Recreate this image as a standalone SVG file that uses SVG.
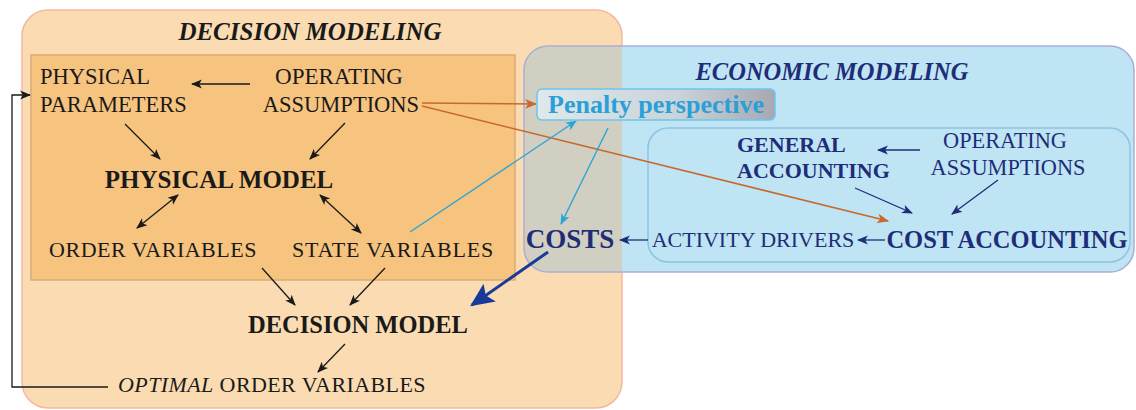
<svg xmlns="http://www.w3.org/2000/svg" width="1136" height="410" viewBox="0 0 1136 410">
<defs>
<style>
.t{font-family:"Liberation Serif","Times New Roman",serif;fill:#1a1a1a}
.b{font-weight:bold}
.i{font-style:italic}
.n{fill:#1e2d78}
.k{stroke:#1a1a1a;stroke-width:1.3;fill:none}
.nv{stroke:#1e2d78;stroke-width:1.3;fill:none}
.or{stroke:#c8692c;stroke-width:1.6;fill:none}
.cy{stroke:#2aa4d6;stroke-width:1.4;fill:none}
</style>
<marker id="ak" viewBox="0 0 10 10" refX="9" refY="5" markerWidth="11" markerHeight="11" markerUnits="userSpaceOnUse" orient="auto-start-reverse"><path d="M0,1 L10,5 L0,9 L2.5,5 z" fill="#1a1a1a"/></marker>
<marker id="an" viewBox="0 0 10 10" refX="9" refY="5" markerWidth="11" markerHeight="11" markerUnits="userSpaceOnUse" orient="auto"><path d="M0,1 L10,5 L0,9 L2.5,5 z" fill="#1e2d78"/></marker>
<marker id="ao" viewBox="0 0 10 10" refX="9" refY="5" markerWidth="12" markerHeight="12" markerUnits="userSpaceOnUse" orient="auto"><path d="M0,1 L10,5 L0,9 L2.5,5 z" fill="#c8692c"/></marker>
<marker id="ac" viewBox="0 0 10 10" refX="9" refY="5" markerWidth="11" markerHeight="11" markerUnits="userSpaceOnUse" orient="auto"><path d="M0,1 L10,5 L0,9 L2.5,5 z" fill="#2aa4d6"/></marker>
<marker id="ab" viewBox="0 0 10 10" refX="9" refY="5" markerWidth="24" markerHeight="24" markerUnits="userSpaceOnUse" orient="auto"><path d="M0,0.5 L10,5 L0,9.5 L2,5 z" fill="#1a3a9a"/></marker>
<linearGradient id="pg" x1="0" y1="0" x2="1" y2="0"><stop offset="0" stop-color="#dfe9ec"/><stop offset="0.6" stop-color="#c9d3d8"/><stop offset="1" stop-color="#a6a8b2"/></linearGradient>
</defs>

<g id="decision-modeling">
<rect x="22" y="10" width="600" height="398" rx="26" fill="#fbdcb2" stroke="#f2b9a2" stroke-width="1.5"/>
<text class="t b i" x="310" y="40" text-anchor="middle" font-size="25">DECISION MODELING</text>
</g>
<g id="physical-area">
<rect x="31" y="55" width="484" height="225" fill="#f7c47f" stroke="#dcaa72" stroke-width="1.5"/>
</g>

<g id="economic-modeling">
<rect x="524" y="46" width="610" height="226" rx="24" fill="#bfe4f4"/>
<path d="M548,46 H622 V272 H548 A24,24 0 0 1 524,248 V70 A24,24 0 0 1 548,46 Z" fill="#d1cec2"/>
<rect x="524" y="46" width="610" height="226" rx="24" fill="none" stroke="#a9b0d4" stroke-width="1.5"/>
<text class="t b i n" x="832" y="80" text-anchor="middle" font-size="24.5">ECONOMIC MODELING</text>
</g>
<g id="accounting-area">
<rect x="648" y="128" width="482" height="134" rx="20" fill="none" stroke="#8ec3e4" stroke-width="1.5"/>
</g>

<g id="connectors">
<line class="k" x1="250" y1="84" x2="192" y2="84" marker-end="url(#ak)"/>
<line class="k" x1="125" y1="124" x2="160" y2="159" marker-end="url(#ak)"/>
<line class="k" x1="345" y1="123" x2="310" y2="159" marker-end="url(#ak)"/>
<line class="k" x1="137" y1="228" x2="178" y2="195" marker-start="url(#ak)" marker-end="url(#ak)"/>
<line class="k" x1="320" y1="195" x2="361" y2="233" marker-start="url(#ak)" marker-end="url(#ak)"/>
<line class="k" x1="262" y1="268" x2="295" y2="305" marker-end="url(#ak)"/>
<line class="k" x1="385" y1="268" x2="350" y2="305" marker-end="url(#ak)"/>
<line class="k" x1="345" y1="344" x2="318" y2="372" marker-end="url(#ak)"/>
<polyline class="k" points="108,387 12,387 12,95 30,95" marker-end="url(#ak)"/>
<line class="or" x1="422" y1="103" x2="536" y2="104" marker-end="url(#ao)"/>
<line class="or" x1="422" y1="106" x2="888" y2="221" marker-end="url(#ao)"/>
<line class="cy" x1="410" y1="232" x2="576" y2="121" marker-end="url(#ac)"/>
<line class="cy" x1="608" y1="128" x2="561" y2="224" marker-end="url(#ac)"/>
<line x1="548" y1="252" x2="472" y2="305" stroke="#1a3a9a" stroke-width="3" marker-end="url(#ab)"/>
<line class="nv" x1="648" y1="240" x2="620" y2="240" marker-end="url(#an)"/>
<line class="nv" x1="885" y1="240" x2="858" y2="240" marker-end="url(#an)"/>
<line class="nv" x1="920" y1="150" x2="878" y2="150" marker-end="url(#an)"/>
<line class="nv" x1="855" y1="188" x2="912" y2="213" marker-end="url(#an)"/>
<line class="nv" x1="998" y1="180" x2="952" y2="214" marker-end="url(#an)"/>
</g>

<g id="physical-parameters"><text class="t" font-size="22.5" x="40" y="84">PHYSICAL</text><text class="t" font-size="22.5" x="40" y="112">PARAMETERS</text></g>
<g id="operating-assumptions"><text class="t" font-size="23" x="339" y="84" text-anchor="middle">OPERATING</text><text class="t" font-size="22.5" x="341" y="112" text-anchor="middle">ASSUMPTIONS</text></g>
<g id="physical-model"><text class="t b" font-size="25" x="219" y="188" text-anchor="middle">PHYSICAL MODEL</text></g>
<g id="order-variables"><text class="t" font-size="22" x="153" y="257" text-anchor="middle" letter-spacing="0.5">ORDER VARIABLES</text></g>
<g id="state-variables"><text class="t" font-size="22" x="393" y="257" text-anchor="middle" letter-spacing="0.8">STATE VARIABLES</text></g>
<g id="decision-model"><text class="t b" font-size="24.5" x="358" y="333" text-anchor="middle">DECISION MODEL</text></g>
<g id="optimal-order-variables"><text class="t" font-size="22" x="118" y="392" letter-spacing="0.4"><tspan font-style="italic">OPTIMAL</tspan> ORDER VARIABLES</text></g>

<g id="penalty-perspective">
<rect x="537" y="89" width="238" height="31" rx="5" fill="url(#pg)" stroke="#6cc6ea" stroke-width="1.5"/>
<text class="t b" font-size="26" x="656" y="113" text-anchor="middle" style="fill:#2a9fd8">Penalty perspective</text>
</g>
<g id="costs"><text class="t b n" font-size="27" x="570" y="248" text-anchor="middle">COSTS</text></g>
<g id="activity-drivers"><text class="t n" font-size="22" x="753" y="247" text-anchor="middle">ACTIVITY DRIVERS</text></g>
<g id="cost-accounting"><text class="t b n" font-size="24.5" x="1007" y="248" text-anchor="middle">COST ACCOUNTING</text></g>
<g id="general-accounting"><text class="t b n" font-size="22" x="737" y="152">GENERAL</text><text class="t b n" font-size="22" x="737" y="178">ACCOUNTING</text></g>
<g id="operating-assumptions-econ"><text class="t n" font-size="22.3" x="1005" y="148" text-anchor="middle">OPERATING</text><text class="t n" font-size="22.3" x="1008" y="175" text-anchor="middle">ASSUMPTIONS</text></g>
</svg>
